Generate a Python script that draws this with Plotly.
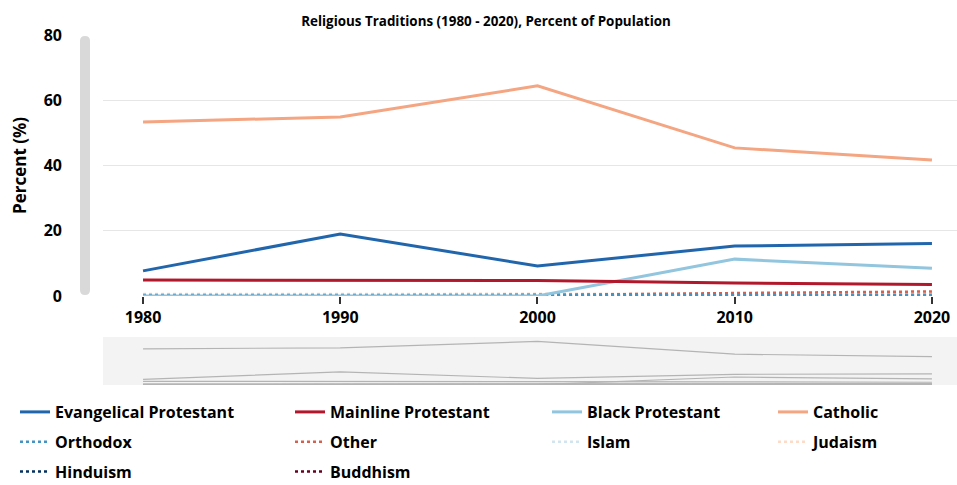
import plotly.graph_objects as go

years = [1980, 1990, 2000, 2010, 2020]
series_names = ["Evangelical Protestant", "Mainline Protestant", "Black Protestant", "Catholic",
                "Orthodox", "Other", "Islam", "Judaism", "Hinduism", "Buddhism"]
evangelical = [7.7, 19.0, 9.2, 15.3, 16.1]
mainline = [4.9, 4.9, 4.75, 4.0, 3.5]
black_prot = [0.0, 0.0, 0.0, 11.3, 8.5]
catholic = [53.3, 54.9, 64.4, 45.4, 41.7]
orthodox = [0.3, 0.3, 0.3, 0.4, 0.4]
other = [0.2, 0.2, 0.3, 0.9, 1.4]
islam = [0.1, 0.1, 0.1, 0.3, 0.5]
judaism = [0.6, 0.6, 0.5, 0.7, 0.9]
hinduism = [0.0, 0.1, 0.1, 0.2, 0.3]
buddhism = [0.1, 0.2, 0.2, 0.3, 0.4]
values = [evangelical, mainline, black_prot, catholic, orthodox, other, islam, judaism, hinduism, buddhism]

colors = ["#2166ac", "#b2182b", "#92c5de", "#f4a582", "#4393c3",
          "#d6604d", "#d1e5f0", "#fddbc7", "#053061", "#67001f"]
dashes = ["solid"] * 4 + ["dot"] * 6
legend_ids = ["legend", "legend2", "legend3", "legend4",
              "legend", "legend2", "legend3", "legend4", "legend", "legend2"]

FONT = "Open Sans"
W, H = 957, 485
L, R, T, B = 103, 0, 35, 100
PW = W - L - R
PH = H - T - B

def px2x(px):
    return (px - L) / PW

def py2y(py):
    return (H - B - py) / PH

fig = go.Figure()
# main traces (draw in reverse so Evangelical etc. on top)
for i in reversed(range(len(series_names))):
    fig.add_trace(go.Scatter(
        x=years, y=values[i], name="<b>" + series_names[i] + "</b>", mode="lines",
        line=dict(color=colors[i], width=3 if dashes[i] == "solid" else 2.5, dash=dashes[i]),
        legend=legend_ids[i], legendgroup=series_names[i], legendrank=i + 1,
        xaxis="x", yaxis="y", hoverinfo="skip"))
# overview (slider-like) traces
for i in range(len(series_names)):
    fig.add_trace(go.Scatter(
        x=years, y=values[i], mode="lines", showlegend=False,
        line=dict(color="#b4b4b4", width=1.2), xaxis="x2", yaxis="y2", hoverinfo="skip"))

xrange = [1977.97, 2021.27]
main_bottom = py2y(296)
slider_top = py2y(337)

fig.update_layout(
    width=W, height=H,
    margin=dict(l=L, r=R, t=T, b=B, pad=0, autoexpand=False),
    paper_bgcolor="white", plot_bgcolor="rgba(0,0,0,0)",
    font=dict(family=FONT, color="black"),
    title=dict(text="<b>Religious Traditions (1980 - 2020), Percent of Population</b>",
               x=486 / W, xanchor="center", xref="container", y=1 - 21 / H, yanchor="middle",
               font=dict(size=13.4, family=FONT, color="black")),
    xaxis=dict(domain=[0, 1], anchor="y", range=xrange, tickvals=years,
               ticktext=["<b>%d</b>" % y for y in years],
               tickfont=dict(size=16, family=FONT, color="black"),
               ticks="outside", ticklen=7, tickwidth=1.5, tickcolor="#333333",
               showgrid=False, zeroline=False, showline=False),
    yaxis=dict(domain=[main_bottom, 1], anchor="x", range=[0, 80], tickvals=[0, 20, 40, 60, 80],
               ticktext=["<b>%d</b>" % v for v in [0, 20, 40, 60, 80]],
               tickfont=dict(size=16, family=FONT, color="black"),
               showgrid=True, gridcolor="#e6e6e6", gridwidth=1, zeroline=False, showline=False,
               ticklabelstandoff=40,
               title=dict(text="<b>Percent (%)</b>", font=dict(size=17, family=FONT, color="black"),
                          standoff=12)),
    xaxis2=dict(domain=[0, 1], anchor="y2", range=xrange, showticklabels=False, showgrid=False,
                zeroline=False, showline=False, ticks=""),
    yaxis2=dict(domain=[0, slider_top], anchor="x2", range=[-0.6, 71], showticklabels=False,
                showgrid=False, zeroline=False, showline=False, ticks=""),
    shapes=[
        dict(type="rect", xref="x2 domain", yref="y2 domain", x0=0, x1=1, y0=0, y1=1,
             fillcolor="#f3f3f3", line=dict(width=0), layer="below"),
    ],
)

# rounded grey vertical bar at left of the main plot
bx0, bx1 = px2x(80), px2x(90)
bxc = (bx0 + bx1) / 2
byt, byb = py2y(36), py2y(295)
ry = 5 / PH
path = (f"M {bx0},{byt - ry} Q {bx0},{byt} {bxc},{byt} Q {bx1},{byt} {bx1},{byt - ry} "
        f"L {bx1},{byb + ry} Q {bx1},{byb} {bxc},{byb} Q {bx0},{byb} {bx0},{byb + ry} Z")
fig.add_shape(type="path", xref="paper", yref="paper", path=path,
              fillcolor="#d9d9d9", line=dict(width=0), layer="above")

leg_common = dict(orientation="v", yanchor="top", xanchor="left", bgcolor="rgba(0,0,0,0)",
                  font=dict(size=16, family=FONT, color="black"), tracegroupgap=6,
                  traceorder="grouped", itemclick=False, itemdoubleclick=False)
leg_y = py2y(395)
fig.update_layout(
    legend=dict(x=px2x(15), y=leg_y, **leg_common),
    legend2=dict(x=px2x(290), y=leg_y, **leg_common),
    legend3=dict(x=px2x(547), y=leg_y, **leg_common),
    legend4=dict(x=px2x(773), y=leg_y, **leg_common),
)

fig.write_html("out.html")
